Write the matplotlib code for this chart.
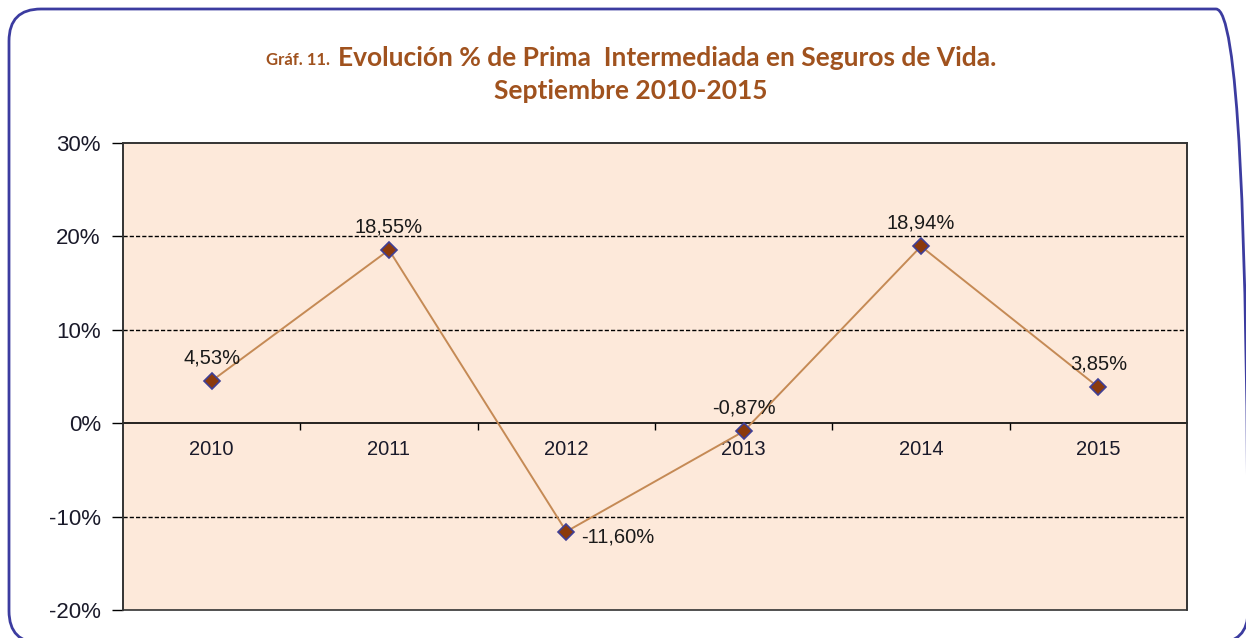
import matplotlib.pyplot as plt
from matplotlib.patches import FancyBboxPatch, Rectangle
from matplotlib.ticker import FixedLocator, PercentFormatter

years = ['2010', '2011', '2012', '2013', '2014', '2015']
growth = [4.53, 18.55, -11.60, -0.87, 18.94, 3.85]
label_side = ['top', 'top', 'right', 'top', 'top', 'top']
y_ticks = [-20, -10, 0, 10, 20, 30]

plt.rcParams['axes.unicode_minus'] = False

W, H = 1246, 638
fig = plt.figure(figsize=(W / 100, H / 100), dpi=100)
fig.patch.set_facecolor('white')

# rounded frame round the whole chart, in pixel units (runs off right/bottom)
bg = fig.add_axes([0, 0, 1, 1])
bg.set_xlim(0, W)
bg.set_ylim(0, H)
bg.axis('off')
bg.add_patch(FancyBboxPatch((9, H - 643), 1248 - 9, 643 - 9,
                            boxstyle='round,pad=0,rounding_size=32',
                            facecolor='none', edgecolor='#3c3ca0', linewidth=2,
                            clip_on=False))

ax = fig.add_axes([123 / W, 1 - 610 / H, (1187 - 123) / W, (610 - 143) / H])
ax.set_facecolor('#fde9da')

x = list(range(len(years)))
ax.plot(x, growth, color='#c58a55', linewidth=1.4, zorder=3)
ax.plot(x, growth, linestyle='none', marker='D', markersize=8.5,
        markerfacecolor='#8b3a0c', markeredgecolor='#3f3f96',
        markeredgewidth=1.2, zorder=4)

for xi, v, side in zip(x, growth, label_side):
    txt = f'{v:.2f}%'.replace('.', ',')
    if side == 'top':
        ax.annotate(txt, (xi, v), xytext=(0, 10), textcoords='offset points',
                    ha='center', va='bottom', fontsize=14.5, color='#1a1a1a',
                    family='Liberation Sans')
    else:
        ax.annotate(txt, (xi, v), xytext=(11, -4), textcoords='offset points',
                    ha='left', va='center', fontsize=14.5, color='#1a1a1a',
                    family='Liberation Sans')

ax.set_xlim(-0.5, len(years) - 0.5)
ax.set_ylim(y_ticks[0], y_ticks[-1])

# gridlines dashed, except at zero which is the category axis
for t in y_ticks[1:-1]:
    if t != 0:
        ax.axhline(t, color='black', linestyle=(0, (3, 1.5)), linewidth=1, zorder=1)

ax.yaxis.set_major_locator(FixedLocator(y_ticks))
ax.yaxis.set_major_formatter(PercentFormatter(decimals=0))
ax.tick_params(axis='y', direction='out', length=8, width=1, labelsize=16,
               labelcolor='#1a1a2a', pad=8)
for lbl in ax.get_yticklabels():
    lbl.set_family('Liberation Sans')

# category axis sits on the zero line
ax.spines['bottom'].set_position(('data', 0))
ax.spines['bottom'].set_linewidth(1.2)
ax.xaxis.set_major_locator(FixedLocator([i + 0.5 for i in x[:-1]]))
ax.xaxis.set_major_formatter(plt.NullFormatter())
ax.xaxis.set_minor_locator(FixedLocator(x))
ax.set_xticklabels(years, minor=True)
ax.tick_params(axis='x', which='major', direction='out', length=5, width=1)
ax.tick_params(axis='x', which='minor', length=0, pad=12, labelsize=14.5,
               labelcolor='#1a1a2a')
for lbl in ax.get_xticklabels(minor=True):
    lbl.set_family('Liberation Sans')

for s in ['top', 'right', 'left']:
    ax.spines[s].set_color('#333333')
    ax.spines[s].set_linewidth(1.2)
ax.add_patch(Rectangle((0, 0), 1, 1, transform=ax.transAxes, fill=False,
                       edgecolor='#333333', linewidth=1.2, zorder=5, clip_on=False))

title_color = '#a0521e'
fig.text(338 / W, 1 - 58 / H, 'Evolución % de Prima  Intermediada en Seguros de Vida.',
         ha='left', va='center', fontsize=19, fontweight='bold',
         color=title_color, family='Lato')
fig.text(631 / W, 1 - 91 / H, 'Septiembre 2010-2015', ha='center', va='center',
         fontsize=19, fontweight='bold', color=title_color, family='Lato')
fig.text(330 / W, 1 - 60 / H, 'Gráf. 11.', ha='right', va='center',
         fontsize=12, fontweight='bold', color=title_color, family='Lato')

fig.savefig('out.png', dpi=100)
